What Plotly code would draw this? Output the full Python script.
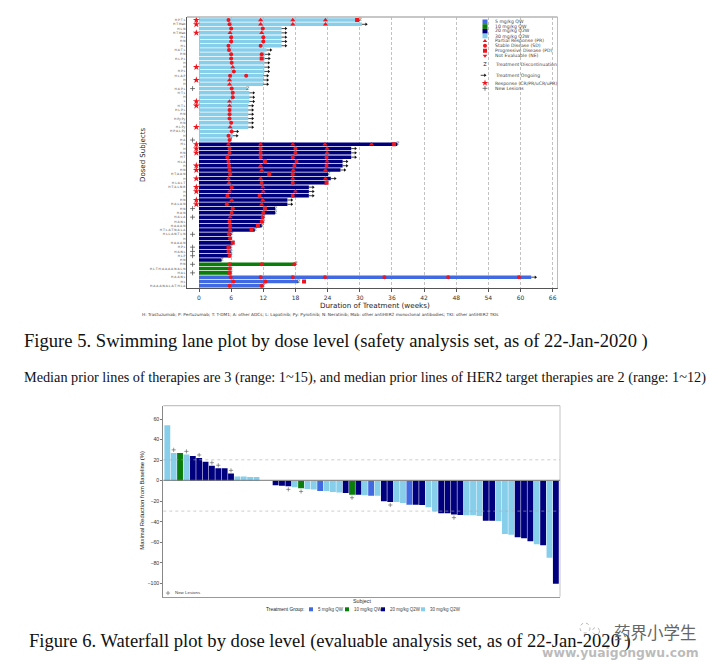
import plotly.graph_objects as go

# the page keeps its 8 px body margin, so the figure fills what is left of the window
W, H = 710, 656
OFFSET = 8


def px(p):
    return (p - OFFSET) / W


def py(p):
    return 1 - (p - OFFSET) / H


# == Swimming lane data (row 0 is the top row) ==
row_labels = [
    "H;P;T;L", "H;T;Mab", "H;L;N", "H;T;Mab", "H;L", "H;N", "H;L", "H;A;T;L", "H;N", "H;L;P;L",
    "H", "H", "H;P;L", "H;L;A;P", "H", "H", "H;A;P;L", "H;T;L", "H", "L",
    "H;T;L", "H;L;P;L", "H;N", "H;Py;Py", "H;N", "H;L;Py", "H;P;A;L;Py", "H", "H;A", "H;L",
    "H", "H;N", "H;T", "H;L;A", "H", "H;N", "H;T;A;A;N", "H", "H;L;A;L;T", "H;T;A;L;N;B",
    "H", "H", "H;N", "H;A;L;A;N", "H;N", "H;A;N", "H;A;L;A", "H;A;N;L", "H;A;A;A;N", "H;T;L;A;T;N;A;L;A",
    "H;L;L;A;N;T;L;N", "H", "H;A;A;A;N", "H;P;L", "H;A;N;L", "H;L;P", "H;N", "H;N",
    "H;L;T;H;A;A;A;A;N;A;L;N", "H;A;L", "H;A;A;N;L", "H;L", "H;A;A;A;N;A;L;A;T;H;L;A",
]
durations = [
    30, 30.4, 15.4, 15.4, 15.4, 15.4, 15.4, 12.6, 12.3, 12.3,
    12.2, 12.2, 12.2, 12, 12, 12, 9, 9.4, 9.4, 9.4,
    9.2, 9.2, 9.2, 9.2, 9.2, 9.2, 6.4, 6.3, 5.8, 37,
    28.4, 28.4, 28.4, 26.8, 26.8, 26.4, 24.1, 24.6, 23.8, 20.5,
    20.5, 20.5, 16.5, 16.5, 14.2, 14.2, 12, 12, 11.7, 10.4,
    6, 5.9, 6.3, 5.9, 5.9, 5.9, 4.2, 18, 5.9, 5.9,
    62, 18.5, 12,
]
dose_names = ["5 mg/kg QW", "10 mg/kg QW", "20 mg/kg Q2W", "30 mg/kg Q2W"]
dose_colors = ["#4169e1", "#0a7d0a", "#00007f", "#87ceeb"]
row_dose = [3] * 29 + [2] * 28 + [1] * 3 + [0] * 3
discontinued_rows = [0, 16, 28, 29, 36, 38, 44, 45, 46, 47, 48, 49, 50, 51, 52, 53, 54, 55, 56, 57, 58, 59, 61, 62]
response_rows = [0, 1, 3, 11, 14, 19, 20, 25, 29, 30, 31, 34, 35, 37, 39, 40, 42, 43]
new_lesion_rows = [16, 28, 44, 46, 50, 53, 54, 55, 57, 59]
pr_weeks = {
    0: [11.5, 17.5, 23.6], 1: [11.5, 17.5, 23.6], 3: [5.8, 11.7], 11: [6.3], 14: [5.7], 15: [5.7],
    19: [5.7], 20: [5.7], 25: [5.8], 29: [5.5, 11.5, 17.5, 23.5, 32.2], 30: [23.9], 31: [23.9],
    33: [23.9], 34: [11.5], 35: [11.7, 17.6, 23.6], 37: [5.5, 11.5, 17.5, 23.6], 38: [5.6],
    39: [11.9], 40: [5.7, 12, 18], 42: [6.1, 11.9], 43: [11.7], 46: [5.8],
}
sd_weeks = {
    0: [5.5], 1: [5.7], 2: [6, 11.9], 4: [6, 12], 5: [6, 12], 6: [5.5, 11.5], 7: [5.6], 8: [6, 11.7],
    9: [6], 10: [6.1], 12: [6.5], 13: [5.8, 8.8], 16: [6.1], 17: [6.3], 18: [6.3], 21: [5.7], 22: [5.7],
    23: [5.7], 24: [6], 26: [6.1], 27: [5.5], 28: [5.7], 30: [5.7, 11.5, 18], 31: [5.7, 11.5, 18],
    32: [5.3, 11.5, 17.5, 23.8], 33: [5.5, 18.2], 34: [5.6, 17.8, 23.8], 35: [5.7], 36: [5.8, 17.5],
    38: [11.7, 17.5], 39: [6.1], 41: [5.3, 11.3, 17.5], 43: [5.2], 44: [6.3], 45: [6.1, 12],
    46: [11.9], 47: [5.7, 11.7], 48: [5.8], 49: [5.8], 50: [5.6], 51: [5.8], 54: [5.5], 55: [5.7],
    57: [5.7, 11.7, 17.8], 58: [5.7], 60: [5.9, 11.5, 17.5, 23.5, 34.6, 46.5, 59.7], 61: [6.4, 12.4],
    62: [5.7, 11.7],
}
pd_weeks = {
    0: [29.5], 9: [11.7], 29: [36.4], 33: [12.3], 36: [13.1], 38: [23.8], 44: [12.3], 48: [11],
    49: [9.8], 52: [6.3], 53: [5.5], 59: [5.7], 61: [19.6],
}
x_ticks = list(range(0, 67, 6))

# == Waterfall data ==
wf_values = [
    54, 27, 27, 25.5, 24, 22, 18.5, 14.5, 12, 12, 7, 4, 4, 3.5, 3.5, 0, 0, -4.5, -5, -5.5, -6.5,
    -7.5, -8, -8.5, -10, -10, -11, -11.5, -12, -13.6, -13.6, -14.3, -14.6, -14.6, -20, -20.7,
    -20.7, -21.7, -23.4, -23.4, -23.7, -26, -30, -31.8, -31.8, -33, -33.4, -33.8, -33.8, -34.4,
    -39, -39, -39.3, -52, -52.6, -55, -56, -59, -62, -63, -75, -100.5,
]
wf_dose = [
    3, 3, 1, 3, 2, 2, 2, 2, 2, 2, 2, 3, 3, 3, 3, 3, 3, 2, 2, 2, 3,
    1, 3, 3, 0, 3, 3, 3, 2, 1, 2, 3, 0, 3, 2, 2,
    3, 3, 0, 2, 2, 3, 3, 2, 2, 2, 2, 3, 3, 3,
    2, 2, 3, 3, 3, 2, 2, 2, 3, 2, 3, 2,
]
wf_new_lesions = [1, 3, 5, 7, 8, 10, 19, 21, 29, 35, 45]
wf_ticks = [60, 40, 20, 0, -20, -40, -60, -80, -100]

fig = go.Figure()

# swimming lanes, one trace per dose so colours stay grouped
for d, name in enumerate(dose_names):
    rows = [r for r in range(len(durations)) if row_dose[r] == d]
    fig.add_trace(
        go.Bar(
            x=[durations[r] for r in rows],
            y=rows,
            orientation="h",
            width=0.82,
            marker=dict(color=dose_colors[d], line_width=0),
            name=name,
            showlegend=False,
        )
    )

ongoing_rows = [r for r in range(len(durations)) if r not in discontinued_rows]
stem_x, stem_y = [], []
for r in ongoing_rows:
    stem_x += [durations[r], durations[r] + 0.8, None]
    stem_y += [r, r, None]
fig.add_trace(go.Scatter(x=stem_x, y=stem_y, mode="lines", line=dict(color="#111", width=0.8), showlegend=False))
fig.add_trace(
    go.Scatter(
        x=[durations[r] + 0.8 for r in ongoing_rows],
        y=ongoing_rows,
        mode="markers",
        marker=dict(symbol="triangle-right", size=3, color="#111"),
        showlegend=False,
    )
)
fig.add_trace(
    go.Scatter(
        x=[durations[r] + 0.1 for r in discontinued_rows],
        y=discontinued_rows,
        mode="text",
        text=["Z"] * len(discontinued_rows),
        textfont=dict(family="DejaVu Sans", size=4.5, color="#111"),
        showlegend=False,
    )
)


def add_assessment(weeks, symbol, size):
    xs, ys = [], []
    for r, vals in weeks.items():
        for v in vals:
            xs.append(v)
            ys.append(r)
    fig.add_trace(
        go.Scatter(x=xs, y=ys, mode="markers", marker=dict(symbol=symbol, size=size, color="#f0141e"), showlegend=False)
    )


add_assessment(pr_weeks, "triangle-up", 4.5)
add_assessment(sd_weeks, "circle", 4)
add_assessment(pd_weeks, "square", 4)

fig.add_trace(
    go.Scatter(
        x=[-0.5] * len(response_rows),
        y=response_rows,
        mode="markers",
        marker=dict(symbol="star", size=5.2, color="#f0141e"),
        showlegend=False,
    )
)
fig.add_trace(
    go.Scatter(
        x=[-1.2] * len(new_lesion_rows),
        y=new_lesion_rows,
        mode="markers",
        marker=dict(symbol="cross-thin", size=3.5, line=dict(width=0.7, color="#444")),
        showlegend=False,
    )
)

# waterfall bars
for d, name in enumerate(dose_names):
    idx = [i for i in range(len(wf_values)) if wf_dose[i] == d]
    fig.add_trace(
        go.Bar(
            x=idx,
            y=[wf_values[i] for i in idx],
            width=0.92,
            marker=dict(color=dose_colors[d], line_width=0),
            name=name,
            xaxis="x2",
            yaxis="y2",
            showlegend=False,
        )
    )
fig.add_trace(
    go.Scatter(
        x=wf_new_lesions,
        y=[wf_values[i] + (3 if wf_values[i] > 0 else -3) for i in wf_new_lesions],
        mode="markers",
        marker=dict(symbol="cross-thin", size=3, line=dict(width=0.6, color="#555")),
        xaxis="x2",
        yaxis="y2",
        showlegend=False,
    )
)

# legend keys of the swimming lane panel, positions in pixels of the page
LEG_X = 485
swim_left, swim_right, swim_top, swim_bottom = 187, 557.5, 17, 288.3
x_scale = (swim_right - swim_left) / 69.14
y_scale = 4.285
leg_week = (LEG_X - swim_left) / x_scale - 2.24
leg_text_ys = [21.7, 26.3, 31, 36, 41, 45.7, 50.7, 55.7, 64.3, 75.3, 83, 88.3]
leg_texts = dose_names + [
    "Partial Response (PR)",
    "Stable Disease (SD)",
    "Progressive Disease (PD)",
    "Not Evaluable (NE)",
    "Treatment Discontinuation",
    "Treatment Ongoing",
    "Response (CR/PR/uCR/uPR)",
    "New Lesions",
]


def leg_row(y):
    return (y - 20) / y_scale


leg_symbols = [
    (4, "triangle-up", "#f0141e", 4),
    (5, "circle", "#f0141e", 4),
    (6, "square", "#f0141e", 4),
    (7, "triangle-down", "#f0141e", 4),
    (9, "triangle-right", "#111", 3),
    (10, "star", "#f0141e", 5),
]
for i, symbol, color, size in leg_symbols:
    fig.add_trace(
        go.Scatter(
            x=[leg_week],
            y=[leg_row(leg_text_ys[i])],
            mode="markers",
            marker=dict(symbol=symbol, size=size, color=color),
            showlegend=False,
        )
    )
fig.add_trace(
    go.Scatter(
        x=[leg_week - 0.8, leg_week],
        y=[leg_row(leg_text_ys[9])] * 2,
        mode="lines",
        line=dict(color="#111", width=0.8),
        showlegend=False,
    )
)
fig.add_trace(
    go.Scatter(
        x=[leg_week],
        y=[leg_row(leg_text_ys[8])],
        mode="text",
        text=["Z"],
        textfont=dict(family="DejaVu Sans", size=5, color="#111"),
        showlegend=False,
    )
)
fig.add_trace(
    go.Scatter(
        x=[leg_week],
        y=[leg_row(leg_text_ys[11])],
        mode="markers",
        marker=dict(symbol="cross-thin", size=3.5, line=dict(width=0.7, color="#444")),
        showlegend=False,
    )
)

shapes = []
annotations = []


def label(text, x, y, size, family="Liberation Sans", color="#333", anchor="left", angle=0):
    annotations.append(
        dict(
            text=text,
            x=px(x),
            y=py(y),
            xref="paper",
            yref="paper",
            xanchor=anchor,
            yanchor="middle",
            showarrow=False,
            textangle=angle,
            font=dict(family=family, size=size, color=color),
        )
    )


def frame_line(x0, y0, x1, y1, color, width, dash="solid", layer="above"):
    shapes.append(
        dict(
            type="line",
            xref="paper",
            yref="paper",
            x0=px(x0),
            y0=py(y0),
            x1=px(x1),
            y1=py(y1),
            line=dict(color=color, width=width, dash=dash),
            layer=layer,
        )
    )


# swimming lane legend
for i in range(4):
    shapes.append(
        dict(
            type="rect",
            xref="paper",
            yref="paper",
            x0=px(LEG_X - 2.5),
            x1=px(LEG_X + 2.5),
            y0=py(19.5 + 4.7 * i),
            y1=py(19.5 + 4.7 * (i + 1)),
            fillcolor=dose_colors[i],
            line_width=0,
        )
    )
for text, y in zip(leg_texts, leg_text_ys):
    label(text, 493.3, y, 4.6, family="DejaVu Sans", color="#444")

# frames
frame_line(swim_left, swim_top, swim_right, swim_top, "#b5b5b5", 1.3)
frame_line(swim_right, swim_top, swim_right, swim_bottom, "#b5b5b5", 0.9)
frame_line(163.3, 405.7, 560, 405.7, "#c4c4c4", 1.2)
frame_line(560, 405.7, 560, 596.7, "#c4c4c4", 1)
frame_line(163.3, 480.3, 560, 480.3, "#777", 1)
frame_line(163.3, 459.8, 560, 459.8, "#aaa", 0.6, dash="dot")
frame_line(163.3, 511.1, 560, 511.1, "#aaa", 0.6, dash="dot")

# swimming lane text
label("Dosed Subjects", 143, 155, 7, family="DejaVu Sans", color="#222", anchor="center", angle=-90)
label("Duration of Treatment (weeks)", 375, 305, 7.2, family="DejaVu Sans", color="#222", anchor="center")
label(
    "H: Trastuzumab; P: Pertuzumab; T: T-DM1; A: other ADCs; L: Lapatinib; Py: Pyrotinib; N: Neratinib; "
    "Mab: other antiHER2 monoclonal antibodies; TKI: other antiHER2 TKIs",
    140,
    314,
    4.25,
    family="DejaVu Sans",
    color="#333",
)

# waterfall text
label("Maximal Reduction from Baseline (%)", 142, 500.7, 5.9, color="#222", anchor="center", angle=-90)
label("Subject", 361.7, 600.6, 5.4, color="#333", anchor="center")
label("New Lesions", 172.7, 592.7, 4.4, color="#444")
fig.add_trace(
    go.Scatter(
        x=[(168 - 167.3) / 6.37],
        y=[(480.3 - 592.7) / 1.027],
        mode="markers",
        marker=dict(symbol="cross-thin", size=3, line=dict(width=0.6, color="#555")),
        xaxis="x2",
        yaxis="y2",
        showlegend=False,
    )
)
label("Treatment Group:", 264, 609.3, 4.9, color="#222")
wf_leg_swatches = [311, 347, 383, 423]
for i, x in enumerate(wf_leg_swatches):
    shapes.append(
        dict(
            type="rect",
            xref="paper",
            yref="paper",
            x0=px(x - 2),
            x1=px(x + 2),
            y0=py(607.3),
            y1=py(611.3),
            fillcolor=dose_colors[i],
            line_width=0,
        )
    )
    label(dose_names[i], x + 5, 609.3, 4.5, color="#444")

# captions of the document page
label(
    "Figure 5. Swimming lane plot by dose level (safety analysis set, as of 22-Jan-2020 )",
    22,
    341,
    18.6,
    family="Liberation Serif",
    color="#111",
)
label(
    "Median prior lines of therapies are 3 (range: 1~15), and median prior lines of HER2 target therapies are 2 (range: 1~12)",
    22,
    378,
    14.25,
    family="Liberation Serif",
    color="#111",
)
label(
    "Figure 6. Waterfall plot by dose level (evaluable analysis set, as of 22-Jan-2020 )",
    27,
    641,
    18.6,
    family="Liberation Serif",
    color="#111",
)

# watermark in the corner of the page
for cx, cy, r in [(585, 628, 5), (596, 631, 3.5)]:
    shapes.append(
        dict(
            type="circle",
            xref="paper",
            yref="paper",
            x0=px(cx - r),
            x1=px(cx + r),
            y0=py(cy - r),
            y1=py(cy + r),
            line=dict(color="#999", width=0.7, dash="dot"),
        )
    )
label("药界小学生", 612, 632, 16.5, family="Noto Sans CJK SC", color="#666")
label("<b>www.yuaigongwu.com</b>", 540, 652, 12.4, family="DejaVu Sans", color="rgba(175,175,175,0.85)")

fig.update_layout(
    width=W,
    height=H,
    margin=dict(l=0, r=0, t=0, b=0),
    paper_bgcolor="white",
    plot_bgcolor="white",
    barmode="overlay",
    showlegend=False,
    shapes=shapes,
    annotations=annotations,
    xaxis=dict(
        domain=[px(swim_left), px(swim_right)],
        range=[-2.24, 66.9],
        tickvals=x_ticks,
        ticks="outside",
        ticklen=3,
        tickcolor="#555",
        tickwidth=0.7,
        tickfont=dict(family="DejaVu Sans", size=6, color="#333"),
        showgrid=True,
        gridcolor="#c2c2c2",
        griddash="3px,2px",
        gridwidth=0.6,
        zeroline=False,
        showline=True,
        linecolor="#555",
        linewidth=1,
    ),
    yaxis=dict(
        domain=[py(swim_bottom), py(swim_top)],
        range=[62.6, -0.7],
        tickvals=list(range(len(row_labels))),
        ticktext=row_labels,
        ticks="",
        tickfont=dict(family="DejaVu Sans", size=3, color="#444"),
        showgrid=False,
        zeroline=False,
        showline=True,
        linecolor="#555",
        linewidth=1,
    ),
    xaxis2=dict(
        domain=[px(163.3), px(560)],
        range=[-0.63, 61.65],
        anchor="y2",
        showticklabels=False,
        ticks="",
        showgrid=False,
        zeroline=False,
        showline=True,
        linecolor="#999",
        linewidth=1,
    ),
    yaxis2=dict(
        domain=[py(596.7), py(405.7)],
        range=[-113, 73],
        anchor="x2",
        tickvals=wf_ticks,
        ticks="outside",
        ticklen=2,
        tickcolor="#777",
        tickwidth=0.6,
        tickfont=dict(family="Liberation Sans", size=5.2, color="#333"),
        showgrid=False,
        zeroline=False,
        showline=True,
        linecolor="#888",
        linewidth=1,
    ),
)

fig.write_html("out.html")
